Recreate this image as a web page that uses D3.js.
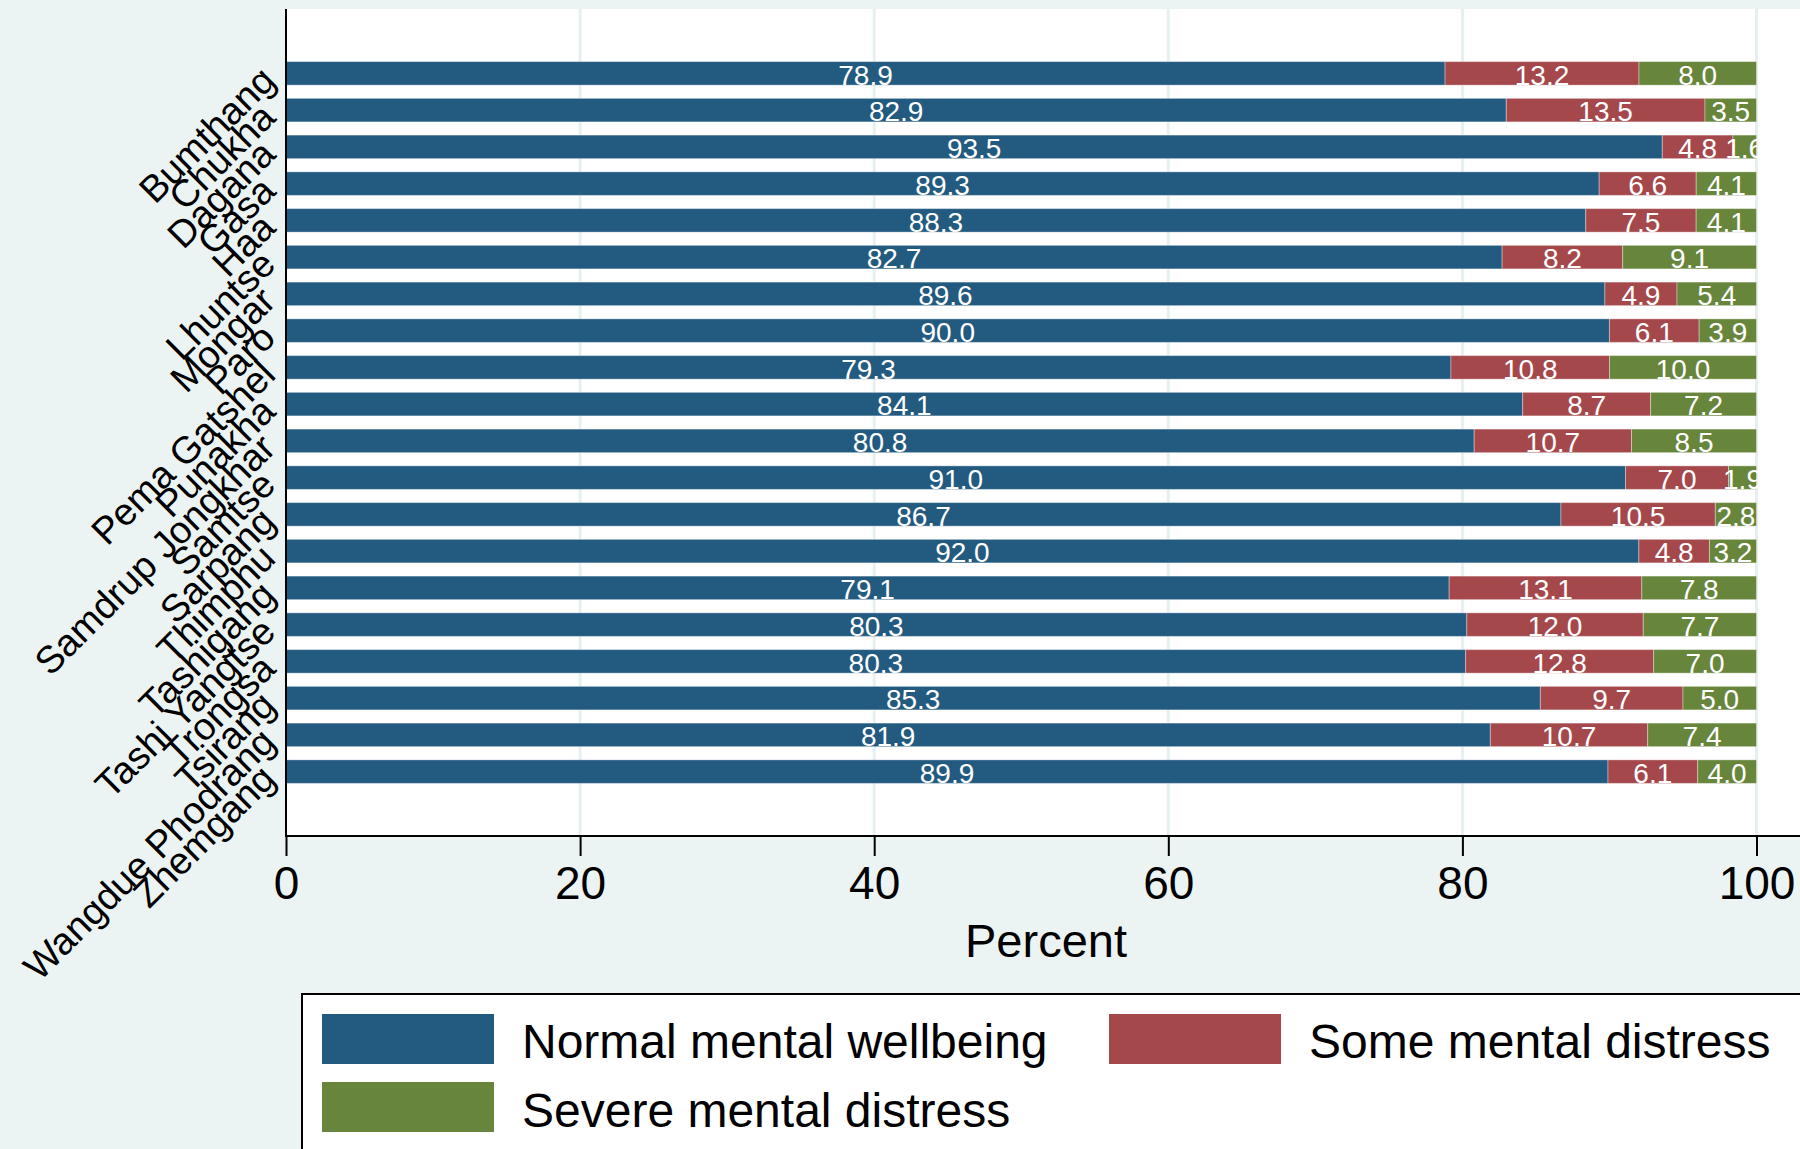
<!DOCTYPE html>
<html>
<head>
<meta charset="utf-8">
<script src="https://cdn.jsdelivr.net/npm/d3@7"></script>
<style>
  html, body { margin: 0; padding: 0; background: #ECF4F3; }
  svg { display: block; font-family: "Liberation Sans", Arial, Helvetica, sans-serif; }
</style>
</head>
<body>
<svg id="chart" width="1800" height="1149"></svg>
<script>
const districts = ["Bumthang","Chukha","Dagana","Gasa","Haa","Lhuntse","Mongar","Paro","Pema Gatshel","Punakha","Samdrup Jongkhar","Samtse","Sarpang","Thimphu","Tashigang","Tashi Yangtse","Trongsa","Tsirang","Wangdue Phodrang","Zhemgang"];
const normal = [78.9,82.9,93.5,89.3,88.3,82.7,89.6,90.0,79.3,84.1,80.8,91.0,86.7,92.0,79.1,80.3,80.3,85.3,81.9,89.9];
const some   = [13.2,13.5,4.8,6.6,7.5,8.2,4.9,6.1,10.8,8.7,10.7,7.0,10.5,4.8,13.1,12.0,12.8,9.7,10.7,6.1];
const severe = [8.0,3.5,1.6,4.1,4.1,9.1,5.4,3.9,10.0,7.2,8.5,1.9,2.8,3.2,7.8,7.7,7.0,5.0,7.4,4.0];
const seriesNames = ["Normal mental wellbeing","Some mental distress","Severe mental distress"];
const seriesKeys = ["normal","some","severe"];
const seriesColors = ["#235A80","#A5484C","#67853B"];
const xTicks = [0,20,40,60,80,100];

(function(){
const rows = districts.map((d,i) => ({district:d, normal:normal[i], some:some[i], severe:severe[i]}));

const svg = d3.select("#chart");
const W = 1800, H = 1149;
const pL = 286, pR = 1756.5, pT = 9, pB = 836;

svg.append("rect").attr("width",W).attr("height",H).attr("fill","#ECF4F3");
svg.append("rect").attr("x",pL).attr("y",pT).attr("width",W-pL).attr("height",pB-pT).attr("fill","#FFFFFF");

const x = d3.scaleLinear().domain([0,100]).range([pL,pR]);
const y = d3.scaleBand().domain(districts).range([55,790]).paddingInner(0.36).paddingOuter(0.18);

svg.append("g").selectAll("line").data(xTicks.filter(t=>t>0)).join("line")
  .attr("x1",d=>x(d)).attr("x2",d=>x(d)).attr("y1",pT).attr("y2",pB)
  .attr("stroke","#E6F0F0").attr("stroke-width",3);

const stack = d3.stack().keys(seriesKeys).offset(d3.stackOffsetExpand);
const layers = stack(rows);

const gBars = svg.append("g");
layers.forEach((layer,li) => {
  gBars.append("g").selectAll("rect").data(layer).join("rect")
    .attr("x",d=>x(d[0]*100))
    .attr("width",d=>x(d[1]*100)-x(d[0]*100))
    .attr("y",d=>y(d.data.district))
    .attr("height",y.bandwidth())
    .attr("fill",seriesColors[li])
    .attr("stroke","rgba(255,255,255,0.35)")
    .attr("stroke-width",1);
});

svg.append("clipPath").attr("id","lblclip").append("rect")
  .attr("x",pL).attr("y",0).attr("width",pR-pL+1).attr("height",H);
const gLbl = svg.append("g").attr("clip-path","url(#lblclip)");
layers.forEach((layer,li) => {
  gLbl.append("g").selectAll("text").data(layer).join("text")
    .attr("x",d=>(x(d[0]*100)+x(d[1]*100))/2)
    .attr("y",d=>y(d.data.district)+y.bandwidth()-0.5)
    .attr("text-anchor","middle")
    .attr("fill","#FFFFFF")
    .attr("font-size",28)
    .text(d=>d.data[seriesKeys[li]].toFixed(1));
});

svg.append("line").attr("x1",pL).attr("x2",pL).attr("y1",pT).attr("y2",pB+1)
  .attr("stroke","#000").attr("stroke-width",2);
svg.append("g").selectAll("text").data(districts).join("text")
  .attr("transform",d=>`translate(268,${y(d)+y.bandwidth()/2}) rotate(-45)`)
  .attr("dy","0.35em")
  .attr("text-anchor","end")
  .attr("font-size",38)
  .attr("fill","#000")
  .text(d=>d);

const xAxis = d3.axisBottom(x).tickValues(xTicks).tickSize(20).tickPadding(10).tickFormat(d3.format("d"));
const gx = svg.append("g").attr("transform",`translate(0,${pB})`).call(xAxis);
gx.select(".domain").remove();
gx.selectAll(".tick line").attr("stroke","#000").attr("stroke-width",2);
gx.selectAll(".tick text").attr("font-size",46).attr("fill","#000")
  .attr("font-family","'Liberation Sans', Arial, sans-serif");
svg.append("line").attr("x1",pL-1).attr("x2",W).attr("y1",pB).attr("y2",pB)
  .attr("stroke","#000").attr("stroke-width",2);

svg.append("text").attr("x",1046).attr("y",957).attr("text-anchor","middle")
  .attr("font-size",47).attr("fill","#000").text("Percent");

svg.append("rect").attr("x",302).attr("y",994).attr("width",W).attr("height",H)
  .attr("fill","#FFFFFF").attr("stroke","#000").attr("stroke-width",2);
const legPos = [{kx:322,ky:1014,tx:522,ty:1058},{kx:1109,ky:1014,tx:1309,ty:1058},{kx:322,ky:1082,tx:522,ty:1127}];
const gLeg = svg.append("g");
seriesNames.forEach((n,i) => {
  const p = legPos[i];
  gLeg.append("rect").attr("x",p.kx).attr("y",p.ky).attr("width",172).attr("height",50)
    .attr("fill",seriesColors[i]);
  gLeg.append("text").attr("x",p.tx).attr("y",p.ty).attr("font-size",48).attr("fill","#000").text(n);
});
})();
</script>
</body>
</html>
